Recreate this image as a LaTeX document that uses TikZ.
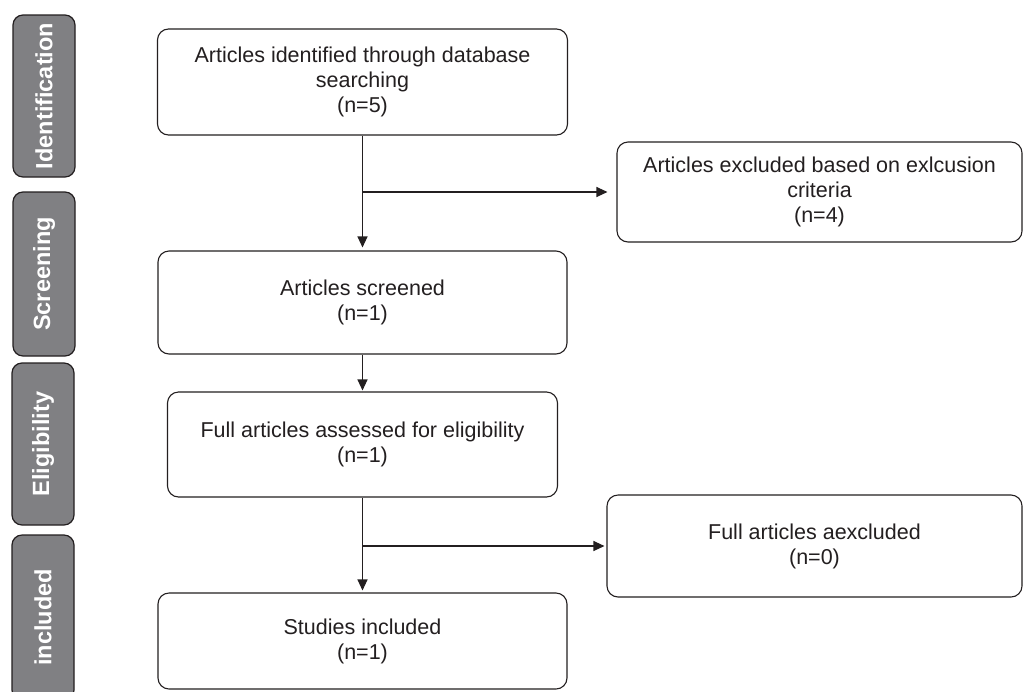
\documentclass[tikz,border=0pt]{standalone}
\usepackage{fontspec}
\setmainfont{Liberation Sans}
\usetikzlibrary{arrows.meta}
\definecolor{ink}{HTML}{231F20}
\definecolor{barfill}{HTML}{808083}
\tikzset{
  box/.style={draw=ink, line width=1.1pt, rounded corners=11pt, align=center, text=ink,
    font=\fontsize{21.5}{25}\selectfont, inner sep=0pt},
  phase/.style={draw=ink, fill=barfill, line width=1.2pt, rounded corners=10pt, inner sep=0pt,
    text=white, font=\fontsize{23.5}{27}\selectfont\bfseries, rotate=90},
  arr/.style={draw=ink, line width=1.1pt, -{Triangle[length=11pt,width=10pt]}},
  ln/.style={draw=ink, line width=1.1pt}
}
\begin{document}
\begin{tikzpicture}[x=1pt,y=-1pt]
\clip (0,0) rectangle (1024,691);
\fill[white] (0,0) rectangle (1024,691);
% phase bars
\node[phase, minimum width=162pt, minimum height=62pt] (p1) at (44,96) {Identification};
\node[phase, minimum width=164pt, minimum height=62pt] (p2) at (44,274) {Screening};
\node[phase, minimum width=162pt, minimum height=62pt] (p3) at (43,444) {Eligibility};
\node[phase, minimum width=165pt, minimum height=62pt] (p4) at (43,617.5) {included};
% boxes
\node[box, minimum width=410pt, minimum height=106pt] (b1) at (362.5,82) {Articles identified through database\\searching\\(n=5)};
\node[box, minimum width=405pt, minimum height=100pt] (x1) at (819.5,192) {Articles excluded based on exlcusion\\criteria\\(n=4)};
\node[box, minimum width=409pt, minimum height=103pt] (b2) at (362.5,302.5) {Articles screened\\(n=1)};
\node[box, minimum width=390pt, minimum height=105pt] (b3) at (362.5,444.5) {Full articles assessed for eligibility\\(n=1)};
\node[box, minimum width=415pt, minimum height=102pt] (x2) at (814.5,546) {Full articles aexcluded\\(n=0)};
\node[box, minimum width=409pt, minimum height=96pt] (b4) at (362.5,641) {Studies included\\(n=1)};
% connectors
\coordinate (j1) at (362.5,192);
\coordinate (j2) at (362.5,546);
\draw[arr, shorten >=3pt] (b1) -- (b2);
\draw[arr, shorten >=9pt] (j1) -- (x1);
\draw[arr, shorten >=1pt] (b2) -- (b3);
\draw[arr, shorten >=2pt] (b3) -- (b4);
\draw[arr, shorten >=2pt] (j2) -- (x2);
\end{tikzpicture}
\end{document}
